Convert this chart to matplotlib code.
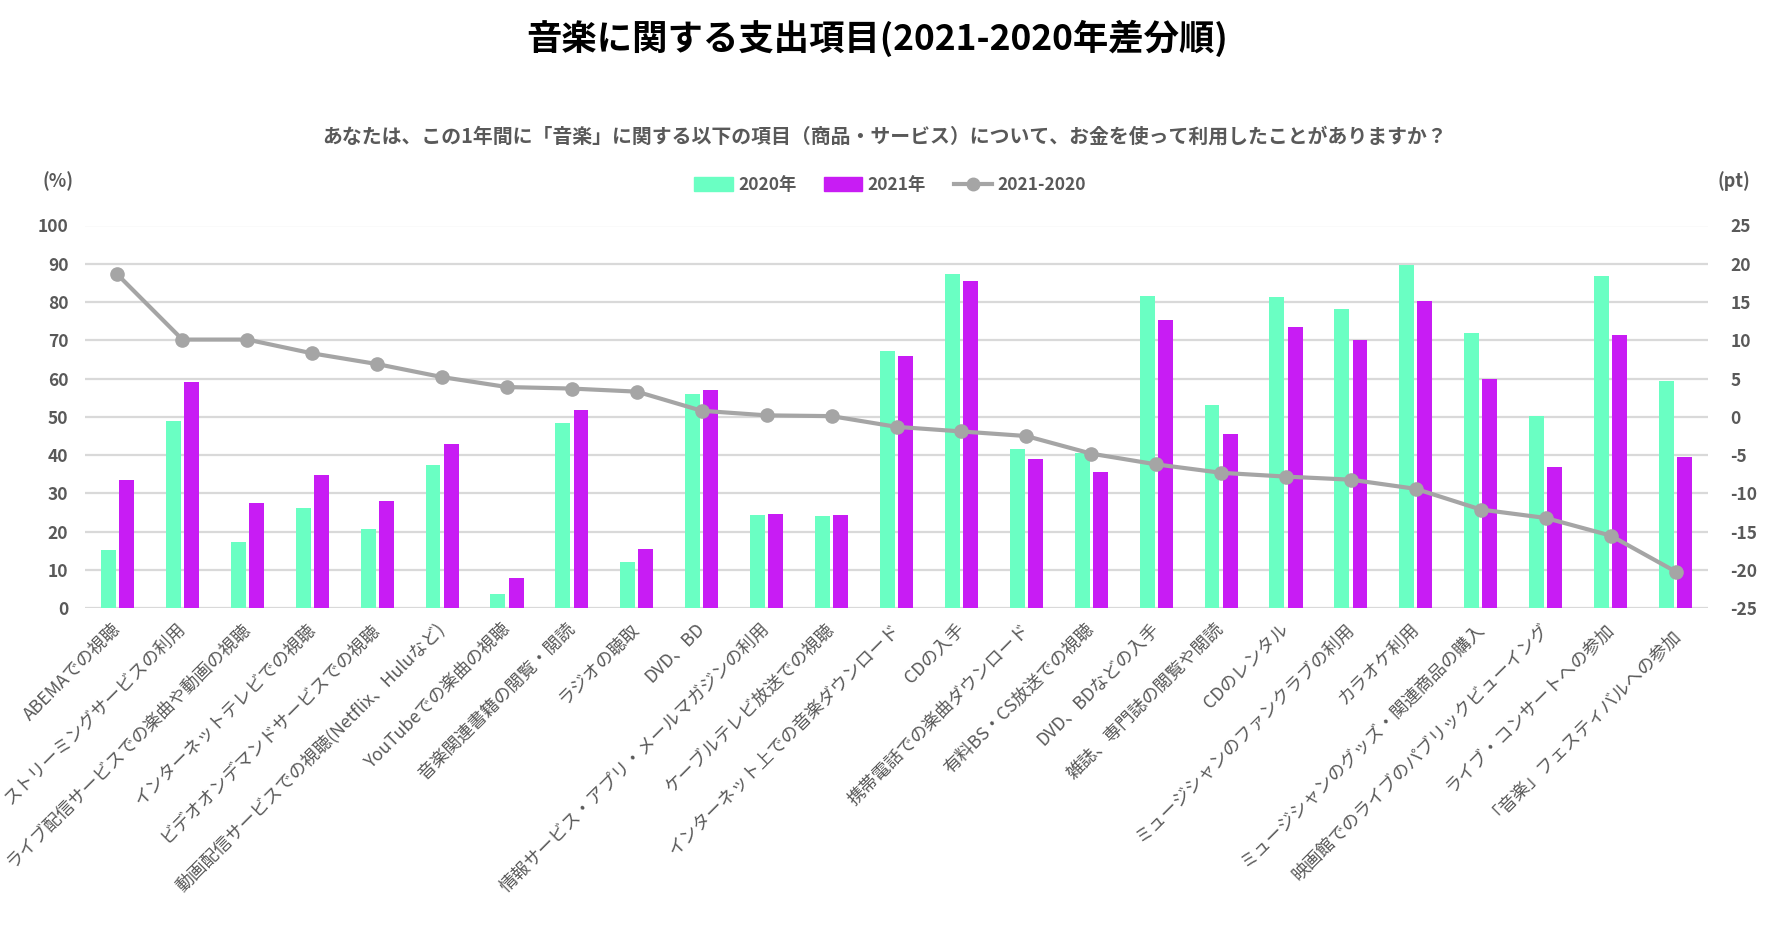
import matplotlib
matplotlib.use("Agg")
import matplotlib.pyplot as plt
import numpy as np
from matplotlib.patches import Patch
from matplotlib.lines import Line2D

plt.rcParams['font.family'] = ['Noto Sans CJK JP', 'DejaVu Sans']
plt.rcParams['axes.unicode_minus'] = False

categories = [
    "ABEMAでの視聴",
    "ストリーミングサービスの利用",
    "ライブ配信サービスでの楽曲や動画の視聴",
    "インターネットテレビでの視聴",
    "ビデオオンデマンドサービスでの視聴",
    "動画配信サービスでの視聴(Netflix、Huluなど)",
    "YouTubeでの楽曲の視聴",
    "音楽関連書籍の閲覧・閲読",
    "ラジオの聴取",
    "DVD、BD",
    "情報サービス・アプリ・メールマガジンの利用",
    "ケーブルテレビ放送での視聴",
    "インターネット上での音楽ダウンロード",
    "CDの入手",
    "携帯電話での楽曲ダウンロード",
    "有料BS・CS放送での視聴",
    "DVD、BDなどの入手",
    "雑誌、専門誌の閲覧や閲読",
    "CDのレンタル",
    "ミュージシャンのファンクラブの利用",
    "カラオケ利用",
    "ミュージシャンのグッズ・関連商品の購入",
    "映画館でのライブのパブリックビューイング",
    "ライブ・コンサートへの参加",
    "「音楽」フェスティバルへの参加",
]

values_2020 = [15.1, 49.0, 17.4, 26.3, 20.8, 37.5, 3.8, 48.3, 12.2, 56.1,
               24.5, 24.2, 67.3, 87.2, 41.5, 40.5, 81.7, 53.0, 81.4, 78.3,
               89.8, 71.8, 50.3, 86.9, 59.5]
values_2021 = [33.6, 59.2, 27.6, 34.7, 27.9, 42.8, 7.8, 51.9, 15.6, 57.1,
               24.7, 24.5, 66.0, 85.4, 38.9, 35.7, 75.4, 45.6, 73.6, 70.2,
               80.4, 59.8, 37.0, 71.5, 39.4]
diff_2021_2020 = [18.6, 10.1, 10.1, 8.3, 6.9, 5.2, 3.9, 3.7, 3.3, 0.8,
                  0.2, 0.1, -1.3, -1.9, -2.5, -4.8, -6.2, -7.3, -7.8, -8.2,
                  -9.4, -12.1, -13.2, -15.5, -20.2]

left_ticks = list(range(0, 101, 10))
right_ticks = list(range(-25, 26, 5))

title = "音楽に関する支出項目(2021-2020年差分順)"
subtitle = "あなたは、この1年間に「音楽」に関する以下の項目（商品・サービス）について、お金を使って利用したことがありますか？"
legend_labels = ["2020年", "2021年", "2021-2020"]

c2020 = "#6AFFC3"
c2021 = "#C81CF4"
cline = "#A5A5A5"
cgrid = "#D9D9D9"
ctext = "#595959"

W, H = 1788, 932
fig = plt.figure(figsize=(W / 100, H / 100), dpi=100)
left, right, top, bottom = 85, 1708, 225.5, 608.3
ax = fig.add_axes([left / W, 1 - bottom / H, (right - left) / W, (bottom - top) / H])

x = np.arange(len(categories))
bw = 0.23
off = 0.14
ax.bar(x - off, values_2020, width=bw, color=c2020, zorder=2)
ax.bar(x + off, values_2021, width=bw, color=c2021, zorder=2)

ax.set_xlim(-0.5, len(categories) - 0.5)
ax.set_ylim(0, 100)
ax.set_yticks(left_ticks)
ax.yaxis.grid(True, color=cgrid, linewidth=1.6, zorder=0)
ax.set_axisbelow(True)
for s in ax.spines.values():
    s.set_visible(False)
ax.tick_params(axis='both', length=0)
ax.tick_params(axis='y', pad=12, labelsize=12.5, labelcolor=ctext)
for lab in ax.get_yticklabels():
    lab.set_fontweight('bold')

ax.set_xticks(x)
ax.set_xticklabels(categories, rotation=45, ha='right', va='center',
                   rotation_mode='anchor', fontsize=12.8, color=ctext)
ax.tick_params(axis='x', pad=13)

ax2 = ax.twinx()
ax2.plot(x, diff_2021_2020, color=cline, linewidth=3, marker='o',
         markersize=9.5, zorder=3)
ax2.set_ylim(-25, 25)
ax2.set_yticks(right_ticks)
for s in ax2.spines.values():
    s.set_visible(False)
ax2.tick_params(axis='y', length=0, pad=16, labelsize=12.5, labelcolor=ctext)
for lab in ax2.get_yticklabels():
    lab.set_fontweight('bold')

fig.text(877 / W, 1 - 38 / H, title, ha='center', va='center',
         fontsize=25.5, fontweight='bold', color='black')
fig.text(885 / W, 1 - 136 / H, subtitle, ha='center', va='center',
         fontsize=14.3, fontweight='bold', color=ctext)
fig.text(58 / W, 1 - 181 / H, "(%)", ha='center', va='center',
         fontsize=13, fontweight='bold', color=ctext)
fig.text(1734 / W, 1 - 181 / H, "(pt)", ha='center', va='center',
         fontsize=13, fontweight='bold', color=ctext)

handles = [Patch(color=c2020), Patch(color=c2021),
           Line2D([0], [0], color=cline, linewidth=3, marker='o', markersize=9)]
leg = fig.legend(handles, legend_labels, loc='center', bbox_to_anchor=(890 / W, 1 - 185 / H),
                 ncol=3, frameon=False, fontsize=12.5, handlelength=2.2, handleheight=0.8,
                 columnspacing=1.6, handletextpad=0.3)
for t in leg.get_texts():
    t.set_color(ctext)
    t.set_fontweight('bold')

fig.savefig("out.png", dpi=100)
